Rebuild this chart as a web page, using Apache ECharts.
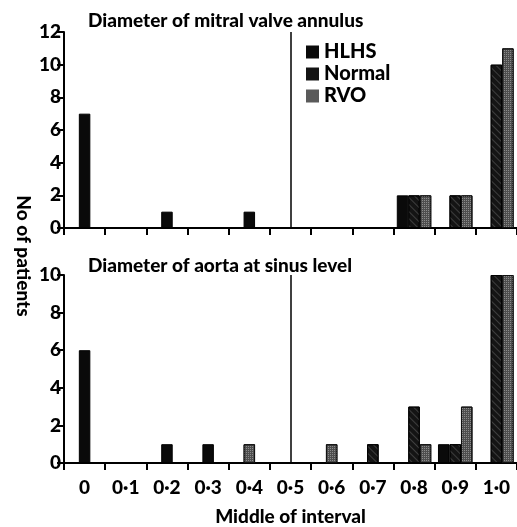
<!DOCTYPE html>
<html><head><meta charset="utf-8">
<script src="https://cdn.jsdelivr.net/npm/echarts@6/dist/echarts.min.js"></script>
<style>html,body{margin:0;padding:0;background:#fff}#c{width:517px;height:527px}</style>
</head><body><div id="c"></div><script>
// ---- data ----
const categories = ['0','0·1','0·2','0·3','0·4','0·5','0·6','0·7','0·8','0·9','1·0'];
const seriesNames = ['HLHS','Normal','RVO'];
const mitralHLHS   = [7,0,1,0,1,0,0,0,2,0,0];
const mitralNormal = [0,0,0,0,0,0,0,0,2,2,10];
const mitralRVO    = [0,0,0,0,0,0,0,0,2,2,11];
const aortaHLHS    = [6,0,1,1,0,0,0,0,0,1,0];
const aortaNormal  = [0,0,0,0,0,0,0,1,3,1,10];
const aortaRVO     = [0,0,0,0,1,0,1,0,1,3,10];
const panelTitles = ['Diameter of mitral valve annulus','Diameter of aorta at sinus level'];
const yMax = [12,10];
const yStep = 2;
const dividerCategory = '0·5';
const xAxisName = 'Middle of interval';
const yAxisName = 'No of patients';

// ---- styles ----
const FONT = 'Lato';
const W = 900;
const groupStyle = [
  {color:'#0a0a0a', borderColor:'#000', borderWidth:1},
  {color:'#141414', borderColor:'#000', borderWidth:1,
   decal:{symbol:'rect', symbolSize:1, rotation:Math.PI/4, dashArrayX:[1,0], dashArrayY:[1,4], color:'rgba(90,90,90,0.6)'}},
  {color:'#4e4e4e', borderColor:'#111', borderWidth:1,
   decal:{symbol:'rect', symbolSize:1, dashArrayX:[1,1], dashArrayY:[1,1], color:'rgba(180,180,180,0.6)'}}
];
const legendColors = ['#0a0a0a','#141414','#5a5a5a'];

const grids = [
  {left:64, top:32, width:455, height:196},
  {left:64, top:275, width:455, height:193}
];

function slotSeries(groups, gi) {
  const slots = [[],[],[]];
  categories.forEach((c, i) => {
    for (let s = 0; s < 3; s++) slots[s].push('-');
    const present = [];
    groups.forEach((g, k) => { if (g[i] > 0) present.push(k); });
    const mk = k => ({value: groups[k][i], itemStyle: groupStyle[k]});
    if (present.length === 1) slots[1][i] = mk(present[0]);
    else present.forEach(k => { slots[k][i] = mk(k); });
  });
  return slots.map((data, s) => {
    const o = {type:'bar', name:'slot'+s+'_'+gi, xAxisIndex:gi, yAxisIndex:gi, data,
      barWidth:11.5, barGap:'0%', silent:true, animation:false};
    if (s === 1) o.markLine = {symbol:['none','none'], silent:true, animation:false,
      label:{show:false}, lineStyle:{color:'#000', width:1.5, type:'solid'},
      data:[{xAxis: dividerCategory}]};
    return o;
  });
}

const series = []
  .concat(slotSeries([mitralHLHS, mitralNormal, mitralRVO], 0))
  .concat(slotSeries([aortaHLHS, aortaNormal, aortaRVO], 1))
  .concat(seriesNames.map((n, k) => ({type:'line', name:n, data:[], xAxisIndex:0, yAxisIndex:0,
     itemStyle:{color:legendColors[k]}, lineStyle:{color:legendColors[k]}})));

const axisLine = {show:true, lineStyle:{color:'#000', width:2}};
const axisTick = {show:true, length:7, lineStyle:{color:'#000', width:2}};

const option = {
  animation:false,
  backgroundColor:'#fff',
  title: panelTitles.map((t, i) => ({text:t, left:83, top: i===0 ? 6 : 251,
    textStyle:{fontFamily:FONT, fontSize:19, fontWeight:W, color:'#000'}})),
  legend:{orient:'vertical', left:301, top:37, itemWidth:13, itemHeight:13, itemGap:2,
    icon:'rect', selectedMode:false, data:seriesNames,
    textStyle:{fontFamily:FONT, fontSize:20, fontWeight:W, color:'#000'}},
  grid: grids,
  xAxis: grids.map((g, i) => ({type:'category', gridIndex:i, data:categories,
    axisLine, axisTick,
    axisLabel:{show: i===1, fontFamily:FONT, fontSize:19, fontWeight:W, color:'#000', margin:15},
    name: i===1 ? xAxisName : '', nameLocation:'middle', nameGap:44,
    nameTextStyle:{fontFamily:FONT, fontSize:19, fontWeight:W, color:'#000'}})),
  yAxis: grids.map((g, i) => ({type:'value', gridIndex:i, min:0, max:yMax[i], interval:yStep,
    axisLine, axisTick, splitLine:{show:false},
    axisLabel:{fontFamily:FONT, fontSize:19, fontWeight:W, color:'#000', margin:3}})),
  graphic:[{type:'text', x:23, y:256, rotation:-Math.PI/2,
    style:{text:yAxisName, fontFamily:FONT, fontSize:19, fontWeight:W, fill:'#000',
      textAlign:'center', textVerticalAlign:'middle'}}],
  series
};
const chart = echarts.init(document.getElementById('c'), null, {renderer:'canvas'});
chart.setOption(option);
</script></body></html>
